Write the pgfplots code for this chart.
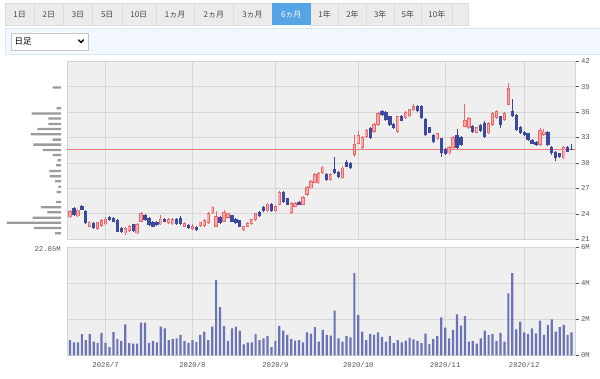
\documentclass[border=0pt]{standalone}
\usepackage{fontspec}
\setmainfont{Liberation Sans}
\setmonofont{Liberation Mono}
\newfontfamily\jp{Noto Sans CJK JP}
\usepackage{pgfplots}
\usepackage{pgfplotstable}
\pgfplotsset{compat=1.18}

\definecolor{bgc}{HTML}{EFEFEF}
\definecolor{gridc}{HTML}{D7D7D7}
\definecolor{framec}{HTML}{D3D3D3}
\definecolor{labc}{HTML}{555555}
\definecolor{cred}{HTML}{EE6666}
\definecolor{cpink}{HTML}{F7AAAA}
\definecolor{cblue}{HTML}{3B4A9E}
\definecolor{volc}{HTML}{6B74B6}
\definecolor{histc}{HTML}{9B9B9B}
\definecolor{refred}{RGB}{245,120,120}
\definecolor{tabc}{HTML}{EBEBEB}
\definecolor{tabb}{HTML}{DCDCDC}
\definecolor{tabsel}{HTML}{55A5E6}
\definecolor{panelc}{HTML}{F2F8FD}
\definecolor{panelb}{HTML}{D6E7F6}

\pgfplotstableread{
i o h l c
0 23.6 24.5 23.5 24.3
2 23.7 24.6 23.6 24.5
5 22.5 23.2 22.4 23.1
7 22.25 23.1 22.1 23.0
8 22.6 23.4 22.5 23.3
9 22.75 23.6 22.7 23.45
14 21.7 22.4 21.45 22.3
15 22.0 22.7 21.9 22.6
17 21.7 22.9 21.6 22.75
18 23.1 24.2 23.0 24.1
23 22.75 23.9 22.7 23.45
25 22.9 23.5 22.8 23.4
26 22.75 23.5 22.7 23.4
29 22.5 23.0 22.4 22.9
31 22.2 22.8 22.1 22.6
33 22.55 23.1 22.5 23.05
34 22.6 23.4 22.5 23.3
35 22.9 24.2 22.8 24.05
36 24.07 24.9 24.0 24.85
37 22.5 24.3 22.4 23.7
39 23.1 24.45 23.0 24.25
40 23.5 24.1 23.4 24.05
44 22.1 22.6 22.0 22.55
45 22.5 23.0 22.4 22.95
46 22.8 23.4 22.7 23.35
47 23.3 24.1 23.2 24.05
50 24.3 25.3 24.2 25.2
52 24.3 25.0 24.2 24.9
53 25.05 26.7 25.0 26.6
56 24.1 25.4 24.0 25.25
57 24.85 25.35 24.8 25.25
59 25.1 26.1 25.0 26.0
60 26.2 27.3 26.1 27.2
61 27.0 28.0 26.9 27.9
62 27.7 28.8 27.6 28.7
63 27.6 28.9 27.5 28.8
64 28.8 29.7 28.7 29.58
66 28.0 28.8 27.9 28.7
69 28.2 29.6 28.1 29.46
72 30.95 33.3 30.7 32.2
73 32.3 33.8 32.2 33.3
74 31.8 33.2 31.7 33.1
75 33.1 34.0 33.0 33.9
77 33.7 34.7 33.6 34.6
78 34.5 36.0 34.4 35.9
83 33.7 35.6 33.6 35.5
85 35.3 36.1 35.2 36.0
86 35.5 36.4 35.4 36.35
87 36.2 37.0 36.1 36.75
93 32.8 33.6 32.7 33.5
96 31.15 32.0 31.0 31.9
97 31.75 33.2 31.6 33.1
100 34.3 37.0 34.2 35.1
101 34.1 35.4 34.0 35.3
103 33.6 34.3 33.5 34.2
106 33.5 34.8 33.4 34.7
107 34.5 36.0 34.4 35.9
108 35.3 36.2 35.2 36.1
110 35.1 36.0 35.0 35.9
111 36.9 39.4 36.8 38.8
119 32.1 34.1 32.0 33.9
120 33.3 34.0 33.2 33.7
125 30.55 32.0 30.5 31.9
}\up

\pgfplotstableread{
i o h l c
1 24.65 24.8 23.8 23.87
3 24.9 25.1 24.4 24.5
4 24.3 24.4 22.8 22.9
6 22.9 23.0 22.2 22.3
10 23.65 23.8 23.2 23.3
11 23.55 23.6 23.0 23.1
12 23.3 23.4 21.85 21.9
13 22.3 22.4 21.8 21.9
16 22.75 22.8 21.9 22.0
19 23.9 24.0 23.2 23.3
20 23.55 23.6 22.6 22.7
21 23.1 23.2 22.4 22.5
22 23.1 23.2 22.6 22.7
24 23.45 23.5 23.0 23.1
27 23.4 23.5 22.7 22.75
28 23.55 23.8 22.7 22.75
30 22.7 22.8 22.2 22.3
32 22.5 22.6 22.0 22.1
38 23.6 23.7 22.8 22.9
41 23.85 23.9 23.0 23.1
42 23.45 23.5 22.8 22.9
43 23.25 23.3 22.4 22.5
48 24.25 24.3 23.6 23.7
49 24.8 24.9 24.2 24.3
51 25.2 25.3 24.2 24.3
54 26.6 26.7 25.3 25.45
55 25.85 25.9 25.0 25.1
58 25.4 25.5 25.0 25.05
65 28.7 28.8 27.9 28.0
67 29.35 30.75 28.7 28.8
68 28.9 29.0 28.2 28.3
70 30.17 30.3 29.5 29.58
71 29.97 30.1 29.3 29.38
76 34.1 34.2 32.8 32.9
79 36.1 36.3 35.6 35.7
80 36.0 36.1 35.0 35.1
81 35.5 35.6 34.4 34.5
82 34.6 34.7 34.0 34.1
84 35.5 35.7 34.9 35.0
88 36.7 36.8 36.0 36.1
89 36.75 36.8 35.2 35.3
90 35.2 35.3 33.2 33.3
91 34.2 34.3 33.5 33.6
92 33.3 33.4 32.4 32.5
94 32.9 33.0 30.75 31.15
95 31.7 31.8 30.9 31.1
98 33.3 34.0 31.6 31.75
99 33.1 33.2 32.0 32.1
102 34.4 34.5 33.6 33.7
104 34.5 34.6 33.7 33.8
105 34.7 35.0 33.0 33.1
109 35.5 35.6 34.1 34.5
112 36.1 37.5 35.4 35.5
113 35.7 35.8 33.8 33.9
114 34.3 34.4 33.4 33.5
115 33.7 33.8 33.2 33.3
116 33.5 33.6 32.6 32.7
117 32.7 32.8 32.2 32.3
118 32.5 32.6 32.0 32.1
121 33.7 33.8 32.0 32.1
122 31.9 32.0 31.0 31.15
123 31.35 31.4 30.2 30.55
124 31.15 31.2 30.6 30.75
126 31.9 32.0 31.3 31.35
127 31.7 32.2 31.5 31.55
}\down

\pgfplotstableread{
i v
0 0.85
1 0.72
2 0.72
3 1.17
4 0.85
5 1.17
6 0.76
7 0.67
8 1.24
9 0.69
10 0.46
11 1.3
12 0.91
13 0.8
14 1.72
15 0.67
16 0.65
17 0.65
18 1.81
19 1.81
20 0.69
21 0.8
22 0.72
23 1.59
24 1.5
25 0.85
26 0.91
27 0.94
28 1.13
29 0.8
30 0.69
31 0.85
32 0.74
33 1.13
34 1.31
35 0.85
36 1.59
37 4.19
38 2.67
39 1.63
40 0.8
41 1.5
42 1.59
43 1.37
44 0.61
45 0.7
46 0.72
47 1.17
48 0.85
49 0.94
50 1.07
51 0.46
52 0.8
53 1.63
54 1.37
55 1.13
56 0.91
57 0.81
58 0.85
59 0.72
60 1.28
61 1.2
62 1.56
63 0.76
64 1.41
65 1.13
66 1.09
67 2.48
68 0.94
69 0.76
70 1.07
71 1.0
72 4.56
73 2.24
74 1.31
75 0.85
76 1.19
77 1.13
78 1.28
79 1.02
80 0.76
81 1.07
82 0.67
83 0.85
84 0.72
85 0.81
86 0.98
87 0.89
88 0.8
89 0.67
90 1.2
91 0.63
92 0.91
93 1.07
94 2.11
95 1.54
96 0.94
97 1.41
98 2.28
99 1.65
100 2.17
101 0.76
102 0.8
103 0.65
104 0.94
105 1.37
106 1.13
107 1.17
108 0.8
109 1.24
110 0.76
111 3.44
112 4.56
113 1.44
114 1.87
115 1.28
116 1.19
117 1.5
118 1.22
119 1.93
120 1.13
121 1.69
122 2.0
123 1.31
124 1.56
125 1.69
126 1.13
127 1.28
}\vol

\pgfplotstableread{
x y
-1 31.6
129 31.6
}\lastline

\pgfplotsset{
  lab/.style={font=\fontsize{7.3}{8}\selectfont\ttfamily, text=labc},
  panel/.style={
    scale only axis, width=508.5bp, xmin=-0.76, xmax=128,
    axis background/.style={fill=bgc},
    axis line style={draw=framec},
    xtick={9,31,52,73,95,115},
    grid=major, grid style={draw=gridc, line width=0.8bp},
    tick align=outside, major tick length=3bp,
    xtick style={draw=none},
    ytick style={draw=labc, line width=0.5bp},
    ytick pos=right, yticklabel pos=right,
    yticklabel style={lab, xshift=-1bp},
    xticklabel style={lab},
  },
  candle/.style 2 args={draw=none, mark=none, forget plot,
    error bars/.cd, y dir=plus, y explicit,
    error mark=none, error bar style={draw=#1, line width=#2}},
}

\begin{document}
\begin{tikzpicture}[x=1bp,y=1bp]
\useasboundingbox (0,0) rectangle (600,378);
\fill[white] (0,0) rectangle (600,378);

% tabs
\draw[fill=tabc, draw=tabb, line width=0.5bp] (452,353) rectangle (468,374.5);
\foreach \lab/\xa/\xb in {1日/5/34.2, 2日/34.2/63.4, 3日/63.4/92.6, 5日/92.6/121.8, 10日/121.8/155.8, 1ヵ月/155.8/194.5, 2ヵ月/194.5/233.2, 3ヵ月/233.2/271.8, 1年/310.6/338.5, 2年/338.5/366.5, 3年/366.5/394, 5年/394/421.7, 10年/421.7/452}{
  \draw[fill=tabc, draw=tabb, line width=0.5bp] (\xa,353) rectangle (\xb,374.5);
  \node[font=\jp\fontsize{8}{9}\selectfont, text=black!72] at ({(\xa+\xb)/2},363.5) {\lab};
}
\fill[tabsel] (271.8,353) rectangle (310.6,374.5);
\node[font=\jp\fontsize{8}{9}\selectfont, text=white] at (291.2,363.5) {6ヵ月};

% dropdown panel
\draw[fill=panelc, draw=panelb, line width=0.6bp] (5,324) rectangle (600.5,350);
\draw[fill=white, draw=black!22, line width=0.6bp] (11,328) rectangle (88,345);
\node[font=\jp\fontsize{8.5}{9}\selectfont, anchor=west, inner sep=0pt] at (14.5,336.5) {日足};
\draw[line width=1.4bp] (78.3,338.3) -- (81,335.6) -- (83.7,338.3);

% volume-by-price histogram
\begin{axis}[at={(0bp,138.7bp)}, anchor=south west, scale only axis,
  width=61bp, height=178bp, xmin=0, xmax=61, ymin=21, ymax=42,
  x dir=reverse, hide axis, clip=false]
\addplot[xbar, bar width=2.3bp, fill=histc, draw=none] coordinates {
(8.3,38.9) (4.3,36.47) (29.3,35.83) (12.7,35.24) (12.7,34.61) (23.7,34.02)
(30.3,33.4) (8.3,32.76) (27.7,32.17) (18.3,31.54) (8.3,30.95) (3.7,30.33)
(5,29.74) (11.7,29.06) (11,28.44) (6,27.85) (2.7,27.21) (4.3,26.58)
(5,25.4) (20,24.78) (13.7,24.19) (28.3,23.55) (54.3,22.96) (27,22.33) (6,21.71)};
\end{axis}

% price panel
\begin{axis}[panel, at={(67bp,138.7bp)}, anchor=south west, height=178bp,
  ymin=21, ymax=42, ytick={21,24,...,42},
  yticklabels={21,24,27,30,33,36,39,42}, xticklabels={}]
\addplot[color=refred, line width=1.5bp, mark=none, forget plot, solid] table[x=x, y=y] {\lastline};
% wicks
\addplot[candle={cred}{0.9bp}]
  table[x=i, y=l, y error plus expr=\thisrow{h}-\thisrow{l}] {\up};
\addplot[candle={cblue}{0.9bp}]
  table[x=i, y=l, y error plus expr=\thisrow{h}-\thisrow{l}] {\down};
% bodies
\addplot[candle={cred}{3.3bp}]
  table[x=i, y=o, y error plus expr=\thisrow{c}-\thisrow{o}] {\up};
\addplot[candle={cpink}{1.7bp}]
  table[x=i, y expr=\thisrow{o}+0.09, y error plus expr={max(\thisrow{c}-\thisrow{o}-0.18,0)}] {\up};
\addplot[candle={cblue}{3.3bp}]
  table[x=i, y=c, y error plus expr=\thisrow{o}-\thisrow{c}] {\down};
\end{axis}

% volume panel
\begin{axis}[panel, at={(67bp,22.7bp)}, anchor=south west, height=108bp,
  ymin=0, ymax=6, ytick={0,2,4,6}, yticklabels={0M,2M,4M,6M},
  xticklabels={2020/7,2020/8,2020/9,2020/10,2020/11,2020/12}]
\addplot[ybar, bar width=2.2bp, fill=volc, draw=none] table[x=i, y=v] {\vol};
\end{axis}

\node[font=\fontsize{7.3}{8}\selectfont\ttfamily, text=labc, anchor=east, inner sep=0pt] at (61,129) {22.05M};
\end{tikzpicture}
\end{document}
